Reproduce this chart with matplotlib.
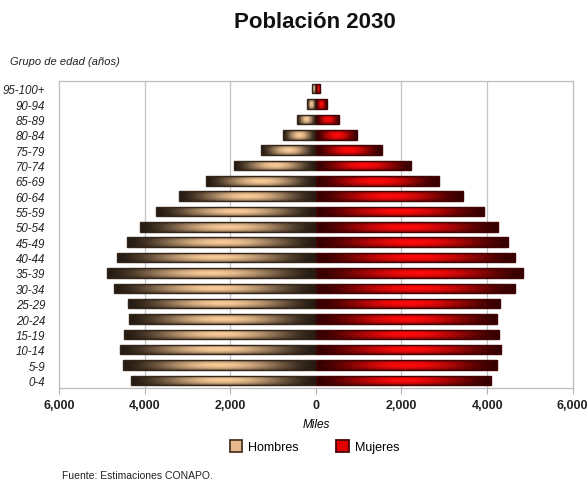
import numpy as np
import matplotlib.pyplot as plt
from matplotlib.patches import Patch

# Población por grupo quinquenal de edad, 2030 (miles)
grupos = ["0-4", "5-9", "10-14", "15-19", "20-24", "25-29", "30-34", "35-39",
          "40-44", "45-49", "50-54", "55-59", "60-64", "65-69", "70-74",
          "75-79", "80-84", "85-89", "90-94", "95-100+"]
hombres = [4320, 4500, 4565, 4490, 4370, 4395, 4705, 4875, 4635, 4415,
           4115, 3730, 3185, 2555, 1905, 1270, 765, 440, 200, 90]
mujeres = [4095, 4235, 4325, 4280, 4235, 4305, 4660, 4850, 4660, 4490,
           4250, 3925, 3445, 2870, 2230, 1535, 965, 540, 250, 100]

xticks = [-6000, -4000, -2000, 0, 2000, 4000, 6000]
xticklabels = ["6,000", "4,000", "2,000", "0", "2,000", "4,000", "6,000"]

plt.rcParams["font.family"] = ["Liberation Sans", "DejaVu Sans"]


def shaded_bar(dark, light, nx=200, ny=24):
    """Cylinder-like shading: dark at both ends, light in the middle."""
    t = np.linspace(0, 1, nx)
    s = np.linspace(0, 1, ny)
    fx = np.sin(np.pi * t) ** 1.6
    fy = 0.45 + 0.55 * np.sin(np.pi * s) ** 0.8
    w = (fy[:, None] * fx[None, :])[..., None]
    dark = np.array(dark)[None, None, :]
    light = np.array(light)[None, None, :]
    return dark + (light - dark) * w


def hex2rgb(h):
    h = h.lstrip("#")
    return [int(h[i:i + 2], 16) / 255 for i in (0, 2, 4)]


fig = plt.figure(figsize=(5.88, 4.81), dpi=100)
ax = fig.add_axes([0.1003, 0.191, 0.8737, 0.6385])

y = np.arange(len(grupos))
bh = 0.62
b_h = ax.barh(y, -np.array(hombres), height=bh, color="none",
              edgecolor="#34261b", linewidth=1.0, zorder=3)
b_m = ax.barh(y, mujeres, height=bh, color="none",
              edgecolor="#420404", linewidth=1.0, zorder=3)

img_h = shaded_bar(hex2rgb("#261b12"), hex2rgb("#f9cb98"))
img_m = shaded_bar(hex2rgb("#360000"), hex2rgb("#ff0a0a"))

for bars, img in ((b_h, img_h), (b_m, img_m)):
    for p in bars:
        x0, y0 = p.get_x(), p.get_y()
        x1, y1 = x0 + p.get_width(), y0 + p.get_height()
        im = ax.imshow(img, extent=[min(x0, x1), max(x0, x1), y0, y1],
                       aspect="auto", interpolation="bilinear", zorder=2)
        im.set_clip_path(p)

ax.set_xlim(-6000, 6000)
ax.set_ylim(-0.5, len(grupos) - 0.5)

ax.set_xticks(xticks)
ax.set_xticklabels(xticklabels, fontsize=9, fontweight="bold", color="#222222")
ax.set_yticks(y)
ax.set_yticklabels(grupos, fontsize=8.3, style="italic", color="#222222")
ax.tick_params(axis="y", length=0, pad=10)
ax.tick_params(axis="x", length=4, color="#b0b0b0", pad=4)

for v in (-4000, -2000, 2000, 4000):
    ax.axvline(v, color="#c4c4c4", linewidth=0.9, zorder=1)
for sp in ax.spines.values():
    sp.set_color("#bdbdbd")
    sp.set_linewidth(0.9)

ax.set_xlabel("Miles", fontsize=8.5, style="italic", labelpad=5)

fig.text(0.535, 0.953, "Población 2030", ha="center", va="center",
         fontsize=16, fontweight="bold", color="#111111")
fig.text(0.017, 0.872, "Grupo de edad (años)", ha="left", va="center",
         fontsize=8, style="italic", color="#222222")
fig.text(0.105, 0.0, "Fuente: Estimaciones CONAPO.", ha="left",
         va="bottom", fontsize=7.5, color="#222222")

handles = [Patch(facecolor="#e8b98a", edgecolor="#4a3526", linewidth=1.3,
                 label="Hombres"),
           Patch(facecolor="#e00000", edgecolor="#4a0505", linewidth=1.3,
                 label="Mujeres")]
fig.legend(handles=handles, loc="center", bbox_to_anchor=(0.535, 0.069),
           ncol=2, frameon=False, fontsize=9, handlelength=1.0,
           handleheight=1.0, columnspacing=3.0, handletextpad=0.5)

fig.savefig("out.png", dpi=100)
